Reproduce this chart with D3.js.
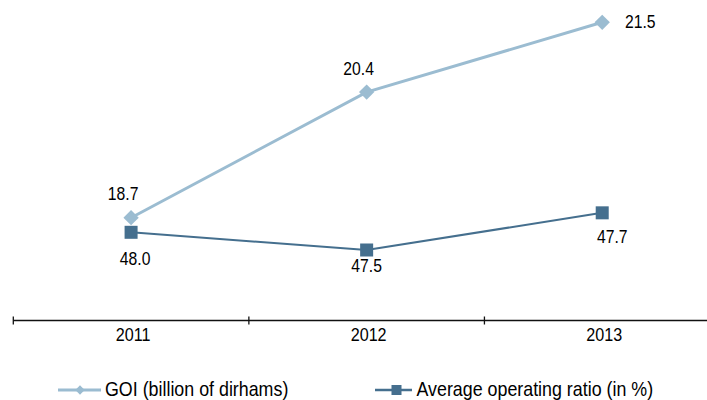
<!DOCTYPE html>
<html>
<head>
<meta charset="utf-8">
<script src="https://cdn.jsdelivr.net/npm/d3@7"></script>
<style>
    body { margin: 0; background: #fff; }
    svg { display: block; font-family: "Liberation Sans Narrow", "Liberation Sans", sans-serif; }
    .vlabel { font-size: 18.5px; fill: #000; }
    .xlabel { font-size: 19px; fill: #000; }
    .legend text { font-size: 21px; fill: #000; }
</style>
</head>
<body>
<div id="vis"></div>
<script>

// Data ----------------------------------------------------------------------

const years = ["2011", "2012", "2013"];

const goiValues = [18.7, 20.5, 21.5];
const goiLabels = ["18.7", "20.4", "21.5"];

const ratioValues = [48.0, 47.5, 48.55];
const ratioLabels = ["48.0", "47.5", "47.7"];

const legendNames = ["GOI (billion of dirhams)", "Average operating ratio (in %)"];

// Setup ----------------------------------------------------------------------

const width = 707;
const height = 400;

const COL_GOI = "#9bbcd1";
const COL_RATIO = "#456f8e";

// Squeeze text horizontally to look like the condensed face of the original
const SQUEEZE = 0.85;

const svg = d3.select("#vis")
    .append("svg")
    .attr("width", width)
    .attr("height", height);

function placeText(sel, x, y) {
    return sel
        .attr("x", 0)
        .attr("y", 0)
        .attr("transform", (d, i) => {
            const xx = typeof x === "function" ? x(d, i) : x;
            const yy = typeof y === "function" ? y(d, i) : y;
            return `translate(${xx},${yy}) scale(${SQUEEZE},1)`;
        });
}

// Scales
const xscale = d3.scaleBand()
    .domain(years)
    .range([13.3, 720]);

const xc = d => xscale(d) + xscale.bandwidth() / 2;

const ygoi = d3.scaleLinear()
    .domain([18.7, 21.5])
    .range([217.7, 22.3]);

const yratio = d3.scaleLinear()
    .domain([47.5, 48.0])
    .range([250, 232.3]);

// Axis ----------------------------------------------------------------------

const axisY = 320.5;

svg.append("line")
    .attr("x1", xscale.range()[0])
    .attr("x2", width)
    .attr("y1", axisY)
    .attr("y2", axisY)
    .attr("stroke", "#111")
    .attr("stroke-width", 1.3);

svg.selectAll(".tick")
    .data(years)
    .enter()
    .append("line")
    .attr("class", "tick")
    .attr("x1", d => xscale(d))
    .attr("x2", d => xscale(d))
    .attr("y1", axisY - 4)
    .attr("y2", axisY + 4)
    .attr("stroke", "#111")
    .attr("stroke-width", 1.3);

svg.selectAll(".xlabel")
    .data(years)
    .enter()
    .append("text")
    .attr("class", "xlabel")
    .attr("text-anchor", "middle")
    .call(placeText, d => xc(d) + 2, 341)
    .text(d => d);

// Lines ---------------------------------------------------------------------

const goiData = years.map((y, i) => ({year: y, value: goiValues[i], label: goiLabels[i]}));
const ratioData = years.map((y, i) => ({year: y, value: ratioValues[i], label: ratioLabels[i]}));

svg.append("path")
    .datum(goiData)
    .attr("fill", "none")
    .attr("stroke", COL_GOI)
    .attr("stroke-width", 3)
    .attr("d", d3.line().x(d => xc(d.year)).y(d => ygoi(d.value)));

svg.append("path")
    .datum(ratioData)
    .attr("fill", "none")
    .attr("stroke", COL_RATIO)
    .attr("stroke-width", 2)
    .attr("d", d3.line().x(d => xc(d.year)).y(d => yratio(d.value)));

// Markers
const diamond = d3.symbol().type(d3.symbolDiamond2).size(150);

svg.selectAll(".goimark")
    .data(goiData)
    .enter()
    .append("path")
    .attr("class", "goimark")
    .attr("d", diamond)
    .attr("transform", d => `translate(${xc(d.year)},${ygoi(d.value)})`)
    .attr("fill", COL_GOI);

svg.selectAll(".ratiomark")
    .data(ratioData)
    .enter()
    .append("rect")
    .attr("class", "ratiomark")
    .attr("x", d => xc(d.year) - 6.5)
    .attr("y", d => yratio(d.value) - 6.5)
    .attr("width", 13)
    .attr("height", 13)
    .attr("fill", COL_RATIO);

// Value labels (offsets from the marker, placed by hand like the original)
const goiOffsets = [[-8, -18], [-8, -17], [38, 6]];
const ratioOffsets = [[4, 33], [0, 22], [10, 30]];

svg.selectAll(".goilabel")
    .data(goiData)
    .enter()
    .append("text")
    .attr("class", "vlabel")
    .attr("text-anchor", "middle")
    .call(placeText,
        (d, i) => xc(d.year) + goiOffsets[i][0],
        (d, i) => ygoi(d.value) + goiOffsets[i][1])
    .text(d => d.label);

svg.selectAll(".ratiolabel")
    .data(ratioData)
    .enter()
    .append("text")
    .attr("class", "vlabel")
    .attr("text-anchor", "middle")
    .call(placeText,
        (d, i) => xc(d.year) + ratioOffsets[i][0],
        (d, i) => yratio(d.value) + ratioOffsets[i][1])
    .text(d => d.label);

// Legend --------------------------------------------------------------------

const legend = svg.append("g").attr("class", "legend");
const legY = 390;

const leg1 = legend.append("g").attr("transform", "translate(58,0)");
leg1.append("line")
    .attr("x1", 0).attr("x2", 43)
    .attr("y1", legY).attr("y2", legY)
    .attr("stroke", COL_GOI).attr("stroke-width", 3);
leg1.append("path")
    .attr("d", d3.symbol().type(d3.symbolDiamond2).size(55))
    .attr("transform", `translate(22,${legY})`)
    .attr("fill", COL_GOI);
leg1.append("text")
    .call(placeText, 47, 396)
    .text(legendNames[0]);

const leg2 = legend.append("g").attr("transform", "translate(375,0)");
leg2.append("line")
    .attr("x1", 0).attr("x2", 37)
    .attr("y1", legY).attr("y2", legY)
    .attr("stroke", COL_RATIO).attr("stroke-width", 2.5);
leg2.append("rect")
    .attr("x", 16.5).attr("y", legY - 5)
    .attr("width", 10).attr("height", 10)
    .attr("fill", COL_RATIO);
leg2.append("text")
    .call(placeText, 41.5, 396)
    .text(legendNames[1]);

</script>
</body>
</html>
